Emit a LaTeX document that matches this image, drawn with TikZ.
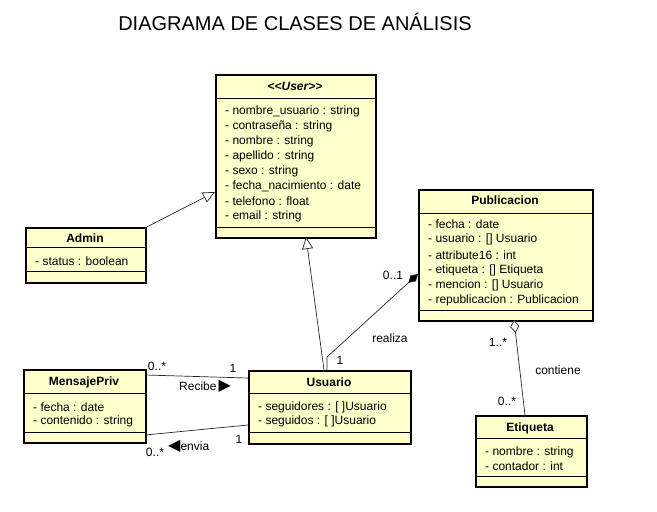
\documentclass[tikz,border=0pt]{standalone}
\usepackage{fontspec}
\setmainfont{Liberation Sans}
\newfontfamily\dejavu{DejaVu Sans}
\usetikzlibrary{arrows.meta}
\definecolor{umlyellow}{RGB}{255,255,204}
\definecolor{linegray}{RGB}{40,40,40}
\tikzset{
  classbox/.style={draw=black, line width=1.7pt, fill=umlyellow, inner sep=0pt, anchor=north west},
  sepline/.style={line width=0.8pt},
  txt/.style={inner sep=0pt, font=\fontsize{12}{14}\selectfont},
  attr/.style={txt, anchor=west},
  hdr/.style={inner sep=0pt, font=\bfseries\fontsize{12}{14}\selectfont},
  conn/.style={draw=linegray, line width=0.7pt},
  gen/.style={conn, -{Triangle[open, length=12pt, width=11pt, fill=white]}},
  comp/.style={conn, {Diamond[length=13pt, width=8pt, fill=black]}-},
  aggr/.style={conn, {Diamond[open, length=13pt, width=9pt, fill=white]}-},
}
\begin{document}
\begin{tikzpicture}[x=1pt, y=-1pt]
\useasboundingbox (0,0) rectangle (657,512);
\fill[white] (0,0) rectangle (657,512);

% title
\node[inner sep=0pt, font=\fontsize{20}{24}\selectfont] (title) at (295,22) {DIAGRAMA DE CLASES DE ANÁLISIS};

% ---------- User ----------
\node[classbox, minimum width=160pt, minimum height=163pt] (user) at (215,74) {};
\node[hdr, font=\bfseries\itshape\fontsize{12}{14}\selectfont] (userh) at (295,86) {<\kern0pt<User>\kern0pt>};
\draw[sepline] (215,98) -- (375,98);
\draw[sepline] (215,227) -- (375,227);
\node[attr] (u1) at (225,111) {- nombre\_usuario : string};
\node[attr] (u2) at (225,126) {- contraseña : string};
\node[attr] (u3) at (225,141) {- nombre : string};
\node[attr] (u4) at (225,156) {- apellido : string};
\node[attr] (u5) at (225,171) {- sexo : string};
\node[attr] (u6) at (225,186) {- fecha\_nacimiento : date};
\node[attr] (u7) at (225,201) {- telefono : float};
\node[attr] (u8) at (225,216) {- email : string};

% ---------- Publicacion ----------
\node[classbox, minimum width=174pt, minimum height=131pt] (pub) at (418,189) {};
\node[hdr] (pubh) at (505,200) {Publicacion};
\draw[sepline] (418,213) -- (592,213);
\draw[sepline] (418,310) -- (592,310);
\node[attr] (p1) at (428,224) {- fecha : date};
\node[attr] (p2) at (428,239) {- usuario : [] Usuario};
\node[attr] (p3) at (428,255) {- attribute16 : int};
\node[attr] (p4) at (428,270) {- etiqueta : [] Etiqueta};
\node[attr] (p5) at (428,285) {- mencion : [] Usuario};
\node[attr] (p6) at (428,300) {- republicacion : Publicacion};

% ---------- Admin ----------
\node[classbox, minimum width=120pt, minimum height=55pt] (admin) at (25,227) {};
\node[hdr] (adminh) at (85,238) {Admin};
\draw[sepline] (25,247) -- (145,247);
\draw[sepline] (25,271) -- (145,271);
\node[attr] (a1) at (35,261) {- status : boolean};

% ---------- MensajePriv ----------
\node[classbox, minimum width=122pt, minimum height=73pt] (msg) at (23,369) {};
\node[hdr] (msgh) at (84,382) {MensajePriv};
\draw[sepline] (23,393) -- (145,393);
\draw[sepline] (23,432) -- (145,432);
\node[attr] (m1) at (33,407) {- fecha : date};
\node[attr] (m2) at (33,421) {- contenido : string};

% ---------- Usuario ----------
\node[classbox, minimum width=162pt, minimum height=73pt] (usu) at (248,370) {};
\node[hdr] (usuh) at (329,382) {Usuario};
\draw[sepline] (248,393) -- (410,393);
\draw[sepline] (248,432) -- (410,432);
\node[attr] (s1) at (258,407) {- seguidores : [ ]Usuario};
\node[attr] (s2) at (258,421) {- seguidos : [ ]Usuario};

% ---------- Etiqueta ----------
\node[classbox, minimum width=111pt, minimum height=71pt] (eti) at (475,415) {};
\node[hdr] (etih) at (530,428) {Etiqueta};
\draw[sepline] (475,438) -- (586,438);
\draw[sepline] (475,476) -- (586,476);
\node[attr] (e1) at (485,452) {- nombre : string};
\node[attr] (e2) at (485,466) {- contador : int};

% ---------- connector points ----------
\coordinate (adminTop) at (admin.north east);
\coordinate (userL) at (215,192);
\coordinate (usuTopG) at (324,370);
\coordinate (userB) at (306,237);
\coordinate (usuTopC) at (327,370);
\coordinate (bend) at (327,357);
\coordinate (pubL) at (418,274);
\coordinate (pubB) at (514,320);
\coordinate (etiT) at (525,415);
\coordinate (msgR1) at (145,375);
\coordinate (usuL1) at (248,378);
\coordinate (msgR2) at (145,435);
\coordinate (usuL2) at (248,425);

% generalizations
\draw[gen] (adminTop) -- (userL);
\draw[gen] (usuTopG) -- (userB);
% composition
\draw[comp] (pubL) -- (bend) -- (usuTopC);
% aggregation
\draw[aggr] (pubB) -- (etiT);
% associations
\draw[conn] (msgR1) -- (usuL1);
\draw[conn] (msgR2) -- (usuL2);

% labels
\node[txt] (l01) at (393,275) {0..1};
\node[txt] (lreal) at (390,338) {realiza};
\node[txt] (l1a) at (340,360) {1};
\node[txt] (l1s) at (498,342) {1..*};
\node[txt] (lcont) at (558,370) {contiene};
\node[txt] (l0s) at (507,401) {0..*};
\node[txt] (lm0a) at (157,366) {0..*};
\node[txt] (lm1a) at (233,368) {1};
\node[txt, anchor=west] (lrec) at (179,386) {Recibe\hspace{2pt}{\dejavu\fontsize{16}{17}\selectfont ▶}};
\node[txt] (lm1b) at (239,439) {1};
\node[txt] (lm0b) at (155,452) {0..*};
\node[txt, anchor=west] (lenv) at (168,446) {{\dejavu\fontsize{16}{17}\selectfont ◀}envia};
\end{tikzpicture}
\end{document}
